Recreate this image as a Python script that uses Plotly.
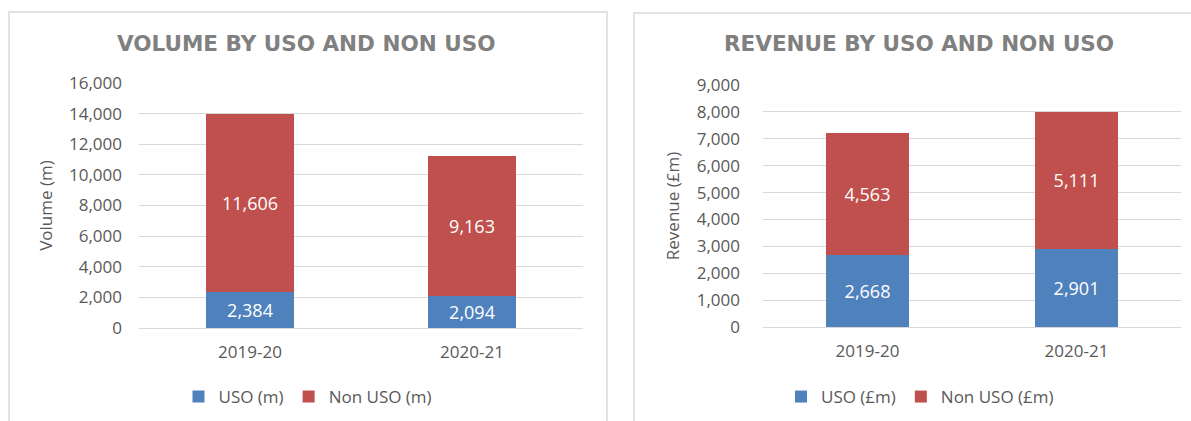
import plotly.graph_objects as go

W, H = 1191, 421

categories = ["2019-20", "2020-21"]
volume_uso = [2384, 2094]
volume_non_uso = [11606, 9163]
revenue_uso = [2668, 2901]
revenue_non_uso = [4563, 5111]

vol_ticks = [0, 2000, 4000, 6000, 8000, 10000, 12000, 14000, 16000]
rev_ticks = [0, 1000, 2000, 3000, 4000, 5000, 6000, 7000, 8000, 9000]

BLUE = "#4f81bd"
RED = "#c0504d"
TXT = "#595959"
GRID = "#d9d9d9"
FONT = "Open Sans"


def px(x):
    return x / W


def py(y):
    return (H - y) / H


fig = go.Figure()

label_font = dict(family=FONT, size=18, color="white")

fig.add_trace(go.Bar(x=categories, y=volume_uso, name="USO (m)", marker_color=BLUE,
                     text=[f"{v:,}" for v in volume_uso], textposition="inside",
                     insidetextanchor="middle", textangle=0, textfont=label_font,
                     xaxis="x", yaxis="y", legend="legend"))
fig.add_trace(go.Bar(x=categories, y=volume_non_uso, name="Non USO (m)", marker_color=RED,
                     text=[f"{v:,}" for v in volume_non_uso], textposition="inside",
                     insidetextanchor="middle", textangle=0, textfont=label_font,
                     xaxis="x", yaxis="y", legend="legend"))
fig.add_trace(go.Bar(x=categories, y=revenue_uso, name="USO (£m)", marker_color=BLUE,
                     text=[f"{v:,}" for v in revenue_uso], textposition="inside",
                     insidetextanchor="middle", textangle=0, textfont=label_font,
                     xaxis="x2", yaxis="y2", legend="legend2"))
fig.add_trace(go.Bar(x=categories, y=revenue_non_uso, name="Non USO (£m)", marker_color=RED,
                     text=[f"{v:,}" for v in revenue_non_uso], textposition="inside",
                     insidetextanchor="middle", textangle=0, textfont=label_font,
                     xaxis="x2", yaxis="y2", legend="legend2"))

tick_font = dict(family=FONT, size=17, color=TXT)

common_x = dict(showgrid=False, showline=False, ticks="", tickfont=tick_font,
                ticklabelstandoff=12, fixedrange=True, automargin=False)
common_y = dict(showgrid=True, gridcolor=GRID, gridwidth=1, zeroline=True,
                zerolinecolor=GRID, zerolinewidth=1, showline=False, ticks="",
                tickfont=tick_font, tickformat=",d", fixedrange=True, automargin=False)

fig.update_layout(
    template="none",
    width=W, height=H, autosize=False,
    margin=dict(l=0, r=0, t=0, b=0, pad=0),
    paper_bgcolor="white", plot_bgcolor="white",
    barmode="stack", bargap=0.6,
    font=dict(family=FONT, color=TXT),
    xaxis=dict(domain=[px(139), px(583)], anchor="y", **common_x),
    yaxis=dict(domain=[py(328), py(83)], anchor="x", range=[0, 16000],
               tickvals=vol_ticks, ticklabelstandoff=16,
               title=dict(text="Volume (m)", font=dict(family=FONT, size=17, color=TXT), standoff=12),
               **common_y),
    xaxis2=dict(domain=[px(763), px(1181)], anchor="y2", **common_x),
    yaxis2=dict(domain=[py(327), py(85)], anchor="x2", range=[0, 9000],
                tickvals=rev_ticks, ticklabelstandoff=22,
                title=dict(text="Revenue (£m)", font=dict(family=FONT, size=17, color=TXT), standoff=12),
                **common_y),
    legend=dict(orientation="h", x=px(308), xanchor="center", y=py(397), yanchor="middle",
                font=dict(family=FONT, size=17, color=TXT), bgcolor="rgba(0,0,0,0)",
                traceorder="normal", itemwidth=30),
    legend2=dict(orientation="h", x=px(920), xanchor="center", y=py(397), yanchor="middle",
                 font=dict(family=FONT, size=17, color=TXT), bgcolor="rgba(0,0,0,0)",
                 traceorder="normal", itemwidth=30),
    showlegend=True,
)

title_font = dict(family="DejaVu Sans", size=21.5, color="#808080", weight="bold")
fig.add_annotation(text="VOLUME BY USO AND NON USO", xref="paper", yref="paper",
                   x=px(306), y=py(43), xanchor="center", yanchor="middle",
                   showarrow=False, font=title_font)
fig.add_annotation(text="REVENUE BY USO AND NON USO", xref="paper", yref="paper",
                   x=px(919), y=py(43), xanchor="center", yanchor="middle",
                   showarrow=False, font=title_font)

# panel borders
fig.add_shape(type="rect", xref="paper", yref="paper", x0=px(9), x1=px(607),
              y0=py(440), y1=py(12), line=dict(color=GRID, width=1.5), layer="below")
fig.add_shape(type="rect", xref="paper", yref="paper", x0=px(634), x1=px(1220),
              y0=py(440), y1=py(13), line=dict(color=GRID, width=1.5), layer="below")

fig.write_html("out.html", config={"displayModeBar": False},
               post_script="document.body.style.margin='0';document.body.style.overflow='hidden';")
